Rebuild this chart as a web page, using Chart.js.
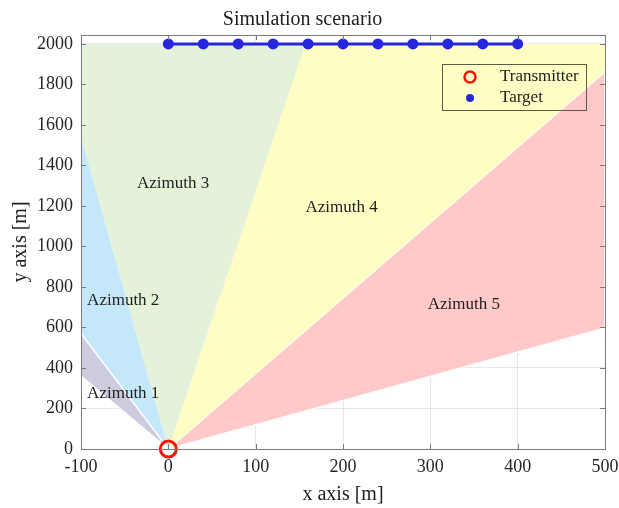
<!DOCTYPE html>
<html>
<head>
<meta charset="utf-8">
<title>Simulation scenario</title>
<script src="https://cdn.jsdelivr.net/npm/chart.js@4.4.0/dist/chart.umd.min.js"></script>
<style>
 html, body { margin:0; padding:0; background:#ffffff; }
 #scenario_container { position:relative; width:619px; height:508px; }
</style>
</head>
<body>
<div id="scenario_container"><canvas id="scenario_CNVS"></canvas></div>
<script>
"use strict";

// targets moving along the top line
const targetX = [0, 40, 80, 120, 160, 200, 240, 280, 320, 360, 400];
const targetY = [2000, 2000, 2000, 2000, 2000, 2000, 2000, 2000, 2000, 2000, 2000];

const transmitterX = [0];
const transmitterY = [0];

// azimuth sectors, corners (apex at the transmitter)
const azimuthNames = ["Azimuth 1", "Azimuth 2", "Azimuth 3", "Azimuth 4", "Azimuth 5"];
const sector1X = [0, -100, -100, 0];
const sector1Y = [0,  360,  570, 0];
const sector2X = [0, -100, -100, 0];
const sector2Y = [0,  570, 1540, 0];
const sector3X = [0, -100, -100,  157, 0];
const sector3Y = [0, 1540, 2000, 2000, 0];
const sector4X = [0,  157,  500,  500, 0];
const sector4Y = [0, 2000, 2000, 1862, 0];
const sector5X = [0,  500,  500, 0];
const sector5Y = [0, 1862,  598, 0];

const azimuthLabelX = [-93, -93, -36, 157, 297];
const azimuthLabelY = [272, 735, 1313, 1190, 711];

const xTicks = [-100, 0, 100, 200, 300, 400, 500];
const yTicks = [0, 200, 400, 600, 800, 1000, 1200, 1400, 1600, 1800, 2000];

const legendLabels = ["Transmitter", "Target"];


const SERIF = "'Liberation Serif', 'Times New Roman', serif";
const TARGET_BLUE = "rgb(38,38,222)";
const TX_RED = "rgb(245,22,10)";

function toPoints(xs, ys)
 {
   return xs.map((x, i) => ({ x: x, y: ys[i] }));
 }

function sector(xs, ys, color, edge)
 {
   return { data: toPoints(xs, ys)
           ,showLine: true
           ,fill: 'shape'
           ,backgroundColor: color
           ,borderColor: edge ? "#ffffff" : color
           ,borderWidth: edge ? 1.5 : 0
           ,pointRadius: 0
           ,tension: 0
           ,order: 5
          };
 }

// frame round the plot with small inward ticks (matlab style box)
const framePlugin = {
   id: "frame",
   afterDatasetsDraw(chart)
    {
      const ctx = chart.ctx;
      const a = chart.chartArea;
      const xs = chart.scales.x, ys = chart.scales.y;
      ctx.save();
      ctx.strokeStyle = "#7a7a7a";
      ctx.lineWidth = 1;
      ctx.strokeRect(Math.round(a.left)+0.5, Math.round(a.top)+0.5, Math.round(a.right-a.left), Math.round(a.bottom-a.top));
      ctx.beginPath();
      xTicks.forEach(v => {
         let px = Math.round(xs.getPixelForValue(v))+0.5;
         ctx.moveTo(px, a.bottom); ctx.lineTo(px, a.bottom-5);
         ctx.moveTo(px, a.top);    ctx.lineTo(px, a.top+5);
       });
      yTicks.forEach(v => {
         let py = Math.round(ys.getPixelForValue(v))+0.5;
         ctx.moveTo(a.left, py);  ctx.lineTo(a.left+5, py);
         ctx.moveTo(a.right, py); ctx.lineTo(a.right-5, py);
       });
      ctx.stroke();
      ctx.restore();
    }
 };

// sector names, written at data positions
const azimuthLabelPlugin = {
   id: "azimuthLabels",
   afterDatasetsDraw(chart)
    {
      const ctx = chart.ctx;
      ctx.save();
      ctx.font = "17px " + SERIF;
      ctx.fillStyle = "#1e1e1e";
      ctx.textAlign = "left";
      ctx.textBaseline = "middle";
      azimuthNames.forEach((name, i) => {
         ctx.fillText(name, chart.scales.x.getPixelForValue(azimuthLabelX[i]), chart.scales.y.getPixelForValue(azimuthLabelY[i]));
       });
      ctx.restore();
    }
 };

// legend box inside the plot, top right
const legendPlugin = {
   id: "boxLegend",
   afterDraw(chart)
    {
      const ctx = chart.ctx;
      const a = chart.chartArea;
      let x0 = a.right - 163, y0 = a.top + 29, w = 144, h = 46;
      ctx.save();
      ctx.strokeStyle = "#5a5a48";
      ctx.lineWidth = 1;
      ctx.strokeRect(Math.round(x0)+0.5, Math.round(y0)+0.5, w, h);

      ctx.lineWidth = 2.5;
      ctx.strokeStyle = TX_RED;
      ctx.beginPath();
      ctx.arc(x0+28, y0+13, 5.5, 0, Math.PI*2);
      ctx.stroke();

      ctx.fillStyle = TARGET_BLUE;
      ctx.beginPath();
      ctx.arc(x0+28, y0+34, 4, 0, Math.PI*2);
      ctx.fill();

      ctx.font = "17px " + SERIF;
      ctx.fillStyle = "#1e1e1e";
      ctx.textAlign = "left";
      ctx.textBaseline = "middle";
      ctx.fillText(legendLabels[0], x0+58, y0+13);
      ctx.fillText(legendLabels[1], x0+58, y0+34);
      ctx.restore();
    }
 };


new Chart(document.getElementById("scenario_CNVS"), {
   type: "scatter",
   data: {
      datasets: [
         { label: legendLabels[1]
          ,data: toPoints(targetX, targetY)
          ,showLine: true
          ,borderColor: TARGET_BLUE
          ,borderWidth: 3
          ,pointRadius: 5.5
          ,pointBackgroundColor: TARGET_BLUE
          ,pointBorderWidth: 0
          ,order: 1
          ,clip: false
         }
        ,{ label: legendLabels[0]
          ,data: toPoints(transmitterX, transmitterY)
          ,pointRadius: 8
          ,pointBorderWidth: 3
          ,pointBorderColor: TX_RED
          ,pointBackgroundColor: "rgba(0,0,0,0)"
          ,order: 0
          ,clip: false
         }
        ,sector(sector1X, sector1Y, "rgb(204,204,222)", true)
        ,sector(sector2X, sector2Y, "rgb(196,232,250)", false)
        ,sector(sector3X, sector3Y, "rgb(228,242,218)", false)
        ,sector(sector4X, sector4Y, "rgb(254,254,196)", false)
        ,sector(sector5X, sector5Y, "rgb(255,201,201)", true)
      ]
   },
   options: {
      responsive: true,
      maintainAspectRatio: false,
      animation: false,
      events: [],
      layout: { padding: { left: 0, right: 14, top: 0, bottom: 0 } },
      plugins: {
         legend: { display: false },
         tooltip: { enabled: false },
         title: { display: true, text: "Simulation scenario", color: "#1e1e1e"
                 ,font: { family: SERIF, size: 20, weight: "normal" }
                 ,padding: { top: 8, bottom: 3 } }
      },
      scales: {
         x: { type: "linear", min: -100, max: 500
             ,ticks: { stepSize: 100, color: "#262626", padding: 7, font: { family: SERIF, size: 18 }
                      ,callback: v => String(v) }
             ,grid: { color: "rgba(0,0,0,0.09)", drawTicks: false }
             ,border: { display: false }
             ,title: { display: true, text: "x axis [m]", color: "#1e1e1e", padding: { top: 0, bottom: 1 }
                      ,font: { family: SERIF, size: 20 } }
             ,afterFit: function(scale) { scale.height = 59; scale.paddingLeft = 0; scale.paddingRight = 0; }
            }
        ,y: { type: "linear", min: 0, max: 2044
             ,afterBuildTicks: function(scale) { scale.ticks = yTicks.map(v => ({ value: v })); }
             ,ticks: { color: "#262626", padding: 8, font: { family: SERIF, size: 18 }
                      ,callback: v => String(v) }
             ,grid: { color: "rgba(0,0,0,0.09)", drawTicks: false }
             ,border: { display: false }
             ,title: { display: true, text: "y axis [m]", color: "#1e1e1e", padding: { top: 9, bottom: 0 }
                      ,font: { family: SERIF, size: 20 } }
             ,afterFit: function(scale) { scale.width = 81; scale.paddingTop = 0; scale.paddingBottom = 0; }
            }
      }
   },
   plugins: [framePlugin, azimuthLabelPlugin, legendPlugin]
});
</script>
</body>
</html>
